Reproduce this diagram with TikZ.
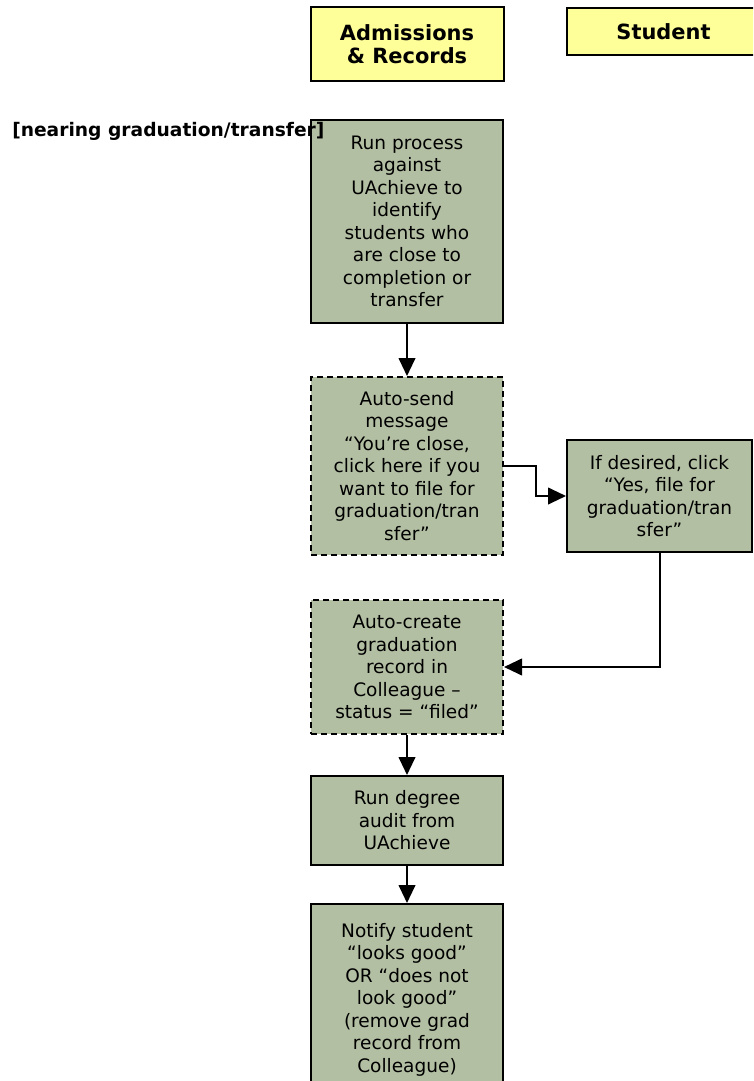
\documentclass[tikz,border=0pt]{standalone}
\usepackage{fontspec}
\setmainfont{DejaVu Sans}
\usepackage{xcolor}
\usetikzlibrary{arrows.meta}
\definecolor{laneyellow}{HTML}{FFFF99}
\definecolor{taskgreen}{HTML}{B3BFA3}

\begin{document}
\begin{tikzpicture}[x=0.75pt, y=-0.75pt,
    lane/.style={draw, line width=1.5pt, fill=laneyellow, align=center, inner sep=0pt,
        font=\fontsize{15.7pt}{17.5pt}\selectfont\bfseries},
    taskbox/.style={draw, line width=1.5pt, fill=taskgreen, align=center, inner sep=0pt,
        minimum width=144pt, font=\fontsize{13.9pt}{16.9pt}\selectfont},
    autobox/.style={taskbox, dash pattern=on 4.5pt off 3pt},
    arr/.style={line width=1.5pt, -{Triangle[length=13.5pt, width=12.5pt]}}]
     \useasboundingbox (0,0) rectangle (753,1081);
     \clip (0,0) rectangle (753,1081);

     % swim lane headers
     \node[lane, minimum width=144.75pt, minimum height=55.5pt] (ar) at (407,44) {Admissions\\\& Records};
     \node[lane, minimum width=144.75pt, minimum height=35.25pt] (stu) at (663.5,31.5) {Student};

     % tasks
     \node[taskbox, minimum height=152.25pt] (run) at (407,221.5)
        {Run process\\against\\UAchieve to\\identify\\students who\\are close to\\completion or\\transfer};
     \node[autobox, minimum height=133.5pt] (send) at (407,466)
        {Auto-send\\message\\“You’re close,\\click here if you\\want to file for\\graduation/tran\\sfer”};
     \node[taskbox, minimum width=138.75pt, minimum height=84pt] (click) at (659.5,496)
        {If desired, click\\“Yes, file for\\graduation/tran\\sfer”};
     \node[autobox, minimum height=100.5pt] (create) at (407,667)
        {Auto-create\\graduation\\record in\\Colleague –\\status = “filed”};
     \node[taskbox, minimum height=66.75pt] (audit) at (407,820.5)
        {Run degree\\audit from\\UAchieve};
     \node[taskbox, minimum height=143.25pt] (notify) at (407,999.5)
        {Notify student\\“looks good”\\OR “does not\\look good”\\(remove grad\\record from\\Colleague)};

     \node[inner sep=0pt, anchor=west, font=\fontsize{14pt}{16pt}\selectfont\bfseries] (trig) at (12,131)
        {[nearing graduation/transfer]};

     \coordinate (jog) at (536,0);

     \draw[arr] (run) -- (send);
     \draw[arr] (send.east) -- (send.east -| jog) -- (jog |- click.west) -- (click.west);
     \draw[arr] (click.south) |- (create.east);
     \draw[arr] (create) -- (audit);
     \draw[arr] (audit) -- (notify);
\end{tikzpicture}
\end{document}
